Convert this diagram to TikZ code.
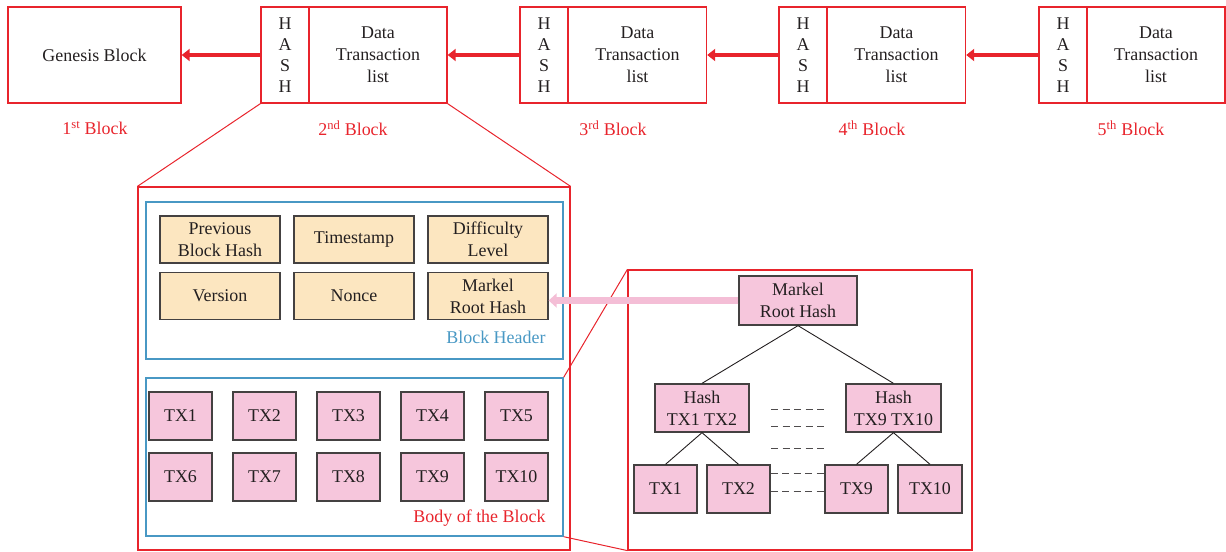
\documentclass[tikz,border=0pt]{standalone}
\usepackage{fontspec}
\setmainfont{Liberation Serif}
\usetikzlibrary{arrows.meta}
\definecolor{myred}{RGB}{232,36,44}
\definecolor{myblue}{RGB}{72,152,196}
\definecolor{myyellow}{RGB}{252,230,192}
\definecolor{mypink}{RGB}{246,198,220}
\definecolor{arrowpink}{RGB}{244,190,214}
\definecolor{ink}{RGB}{35,31,32}
\begin{document}
\begin{tikzpicture}[x=1bp,y=-1bp,
  font=\fontsize{18}{22}\selectfont, text=ink,
  redbox/.style={draw=myred, line width=1.4bp, inner sep=0pt, align=center, minimum height=96bp},
  bluebox/.style={draw=myblue, line width=1.4bp, inner sep=0pt, minimum width=417bp},
  ybox/.style={draw=ink!85, fill=myyellow, line width=1.3bp, inner sep=0pt, align=center, minimum width=120bp, minimum height=47bp},
  pbox/.style={draw=ink!85, fill=mypink, line width=1.3bp, inner sep=0pt, align=center, minimum width=63bp, minimum height=48bp},
  redlabel/.style={text=myred},
  chain/.style={draw=myred, line width=4.5bp, -{Triangle[length=8bp,width=12bp]}},
  zoomline/.style={draw=myred, line width=1bp},
  treeline/.style={draw=ink, line width=0.9bp},
  dots/.style={draw=ink!80, line width=1bp, dash pattern=on 7bp off 4.5bp}
]
\useasboundingbox (0,0) rectangle (1226,552);

% top chain
\node[redbox, minimum width=173bp] (gen) at (94.5,55) {Genesis Block};
\foreach \i/\hx/\dx in {2/285/378, 3/544/637.5, 4/803/896.5, 5/1063/1156}{
  \node[redbox, minimum width=48bp, font=\fontsize{18}{21}\selectfont] (hash\i) at (\hx,55) {H\\A\\S\\H};
  \node[redbox, minimum width=138bp] (data\i) at (\dx,55) {Data\\Transaction\\list};
}
\draw[chain] (hash2.west) -- (gen.east);
\draw[chain] (hash3.west) -- (data2.east);
\draw[chain] (hash4.west) -- (data3.east);
\draw[chain] (hash5.west) -- (data4.east);

\node[redlabel] (l1) at (95,128) {1\textsuperscript{st} Block};
\node[redlabel] (l2) at (353,128) {2\textsuperscript{nd} Block};
\node[redlabel] (l3) at (613,128) {3\textsuperscript{rd} Block};
\node[redlabel] (l4) at (872,128) {4\textsuperscript{th} Block};
\node[redlabel] (l5) at (1131,128) {5\textsuperscript{th} Block};

% big block
\node[draw=myred, line width=1.2bp, minimum width=432bp, minimum height=363bp, inner sep=0pt] (big) at (354,368.5) {};
\draw[zoomline] (hash2.south west) -- (big.north west);
\draw[zoomline] (data2.south east) -- (big.north east);

% header
\node[bluebox, minimum height=157bp] (header) at (354.5,280.5) {};
\node[ybox] (prev) at (220,239.5) {Previous\\Block Hash};
\node[ybox] (time) at (354,239.5) {Timestamp};
\node[ybox] (diff) at (488,239.5) {Difficulty\\Level};
\node[ybox] (ver) at (220,296) {Version};
\node[ybox] (nonce) at (354,296) {Nonce};
\node[ybox] (mrh) at (488,296) {Markel\\Root Hash};
\node[anchor=east, text=myblue] (hl) at (549,337) {Block Header};

% body
\node[bluebox, minimum height=158bp] (body) at (354.5,457) {};
\foreach \n/\x/\y in {1/180.5/416, 2/264.5/416, 3/348.5/416, 4/432.5/416, 5/516.5/416,
                      6/180.5/477, 7/264.5/477, 8/348.5/477, 9/432.5/477, 10/516.5/477}{
  \node[pbox] (tx\n) at (\x,\y) {TX\n};
}
\node[anchor=east, text=myred] (bl) at (549,518) {Body of the Block};

% merkle tree
\node[draw=myred, line width=1.2bp, minimum width=344bp, minimum height=280bp, inner sep=0pt] (merk) at (800,410) {};
\draw[zoomline] (body.north east) -- (merk.north west);
\draw[zoomline] (body.south east) -- (merk.south west);

\node[pbox, minimum width=118bp, minimum height=49bp] (root) at (798,300.5) {Markel\\Root Hash};
\node[pbox, minimum width=94bp] (h12) at (702,408) {Hash\\TX1 TX2};
\node[pbox, minimum width=95bp] (h910) at (893.5,408) {Hash\\TX9 TX10};
\node[pbox] (m1) at (665.5,489) {TX1};
\node[pbox] (m2) at (738.5,489) {TX2};
\node[pbox] (m9) at (856.5,489) {TX9};
\node[pbox, minimum width=64bp] (m10) at (930,489) {TX10};

\draw[treeline] (root.south) -- (h12.north);
\draw[treeline] (root.south) -- (h910.north);
\draw[treeline] (h12.south) -- (m1.north);
\draw[treeline] (h12.south) -- (m2.north);
\draw[treeline] (h910.south) -- (m9.north);
\draw[treeline] (h910.south) -- (m10.north);

\coordinate (d1a) at (771,410); \coordinate (d1b) at (826,410);
\coordinate (d2a) at (771,426); \coordinate (d2b) at (826,426);
\coordinate (d3a) at (771,448); \coordinate (d3b) at (826,448);
\draw[dots] (d1a) -- (d1b);
\draw[dots] (d2a) -- (d2b);
\draw[dots] (d3a) -- (d3b);
\draw[dots] ([yshift=16bp]m2.east) -- ([yshift=16bp]m9.west);
\draw[dots] ([yshift=-2bp]m2.east) -- ([yshift=-2bp]m9.west);

\draw[draw=arrowpink, line width=7bp, -{Triangle[length=8bp,width=14bp]}] (root.west) -- (root.west -| mrh.east);
\end{tikzpicture}
\end{document}
